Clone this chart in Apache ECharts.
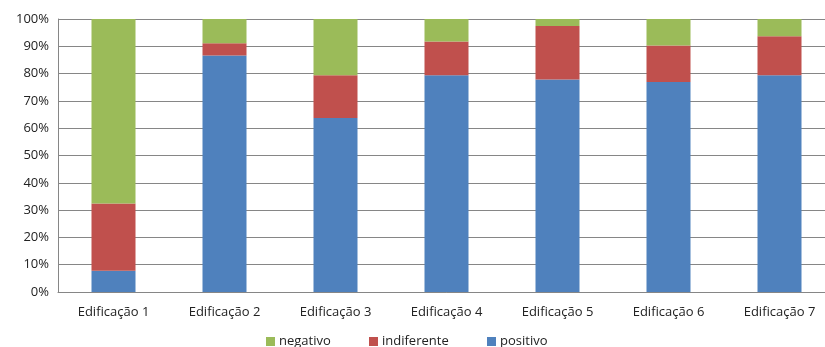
<!DOCTYPE html>
<html>
<head>
<meta charset="utf-8">
<script src="https://cdn.jsdelivr.net/npm/echarts@6/dist/echarts.min.js"></script>
<style>
  html, body { margin: 0; padding: 0; background: #fff; overflow: hidden; }
  #chart { width: 836px; height: 347px; }
</style>
</head>
<body>
<div id="chart"></div>
<script>
// Categories and shares (%) per building
const categories = ['Edificação 1', 'Edificação 2', 'Edificação 3', 'Edificação 4', 'Edificação 5', 'Edificação 6', 'Edificação 7'];
const positivo = [7.8, 86.6, 63.7, 79.4, 77.8, 76.9, 79.4];
const indiferente = [24.6, 4.5, 15.7, 12.4, 19.6, 13.4, 14.3];
const negativo = [67.6, 8.9, 20.6, 8.2, 2.6, 9.7, 6.3];

const font = 'Open Sans';
const chart = echarts.init(document.getElementById('chart'));

function barSeries(name, data, color) {
  return {
    name: name,
    type: 'bar',
    stack: 'total',
    data: data,
    barWidth: 44,
    itemStyle: { color: color },
    emphasis: { disabled: true }
  };
}

// One legend entry per box so each sits at its own spot along the bottom
function legendEntry(name, left) {
  return {
    left: left,
    top: 335,
    padding: 0,
    itemWidth: 9,
    itemHeight: 9,
    itemGap: 0,
    icon: 'rect',
    selectedMode: false,
    textStyle: { fontFamily: font, fontSize: 13, color: '#222', padding: [0, 0, 0, -1] },
    data: [name]
  };
}

chart.setOption({
  animation: false,
  textStyle: { fontFamily: font },
  grid: { left: 58, right: 1, top: 19, bottom: 55, containLabel: false },
  legend: [
    legendEntry('negativo', 266),
    legendEntry('indiferente', 369),
    legendEntry('positivo', 487)
  ],
  xAxis: {
    type: 'category',
    data: categories,
    axisLine: { lineStyle: { color: '#868686' } },
    axisTick: { show: false },
    axisLabel: { fontFamily: font, fontSize: 13, color: '#222', margin: 14 }
  },
  yAxis: {
    type: 'value',
    min: 0,
    max: 100,
    interval: 10,
    axisLine: { show: true, lineStyle: { color: '#868686' } },
    axisTick: { show: false },
    splitLine: { lineStyle: { color: '#868686' } },
    axisLabel: { fontFamily: font, fontSize: 13, color: '#222', formatter: '{value}%', margin: 9 }
  },
  series: [
    barSeries('positivo', positivo, '#4F81BD'),
    barSeries('indiferente', indiferente, '#C0504D'),
    barSeries('negativo', negativo, '#9BBB59')
  ]
});
</script>
</body>
</html>
